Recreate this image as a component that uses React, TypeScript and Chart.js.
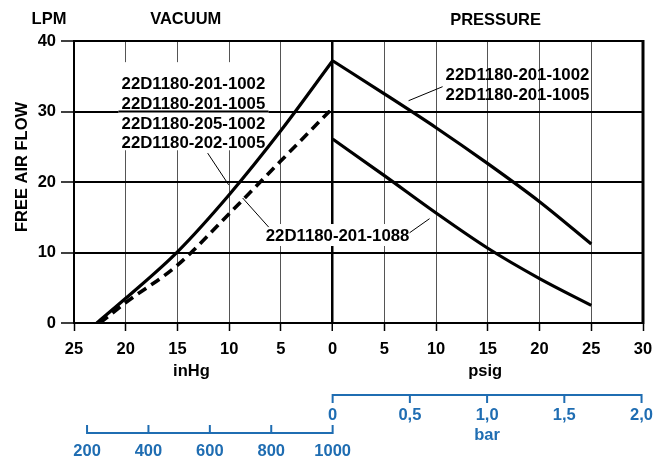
import React, { useEffect, useRef } from "react";
import { Chart, registerables } from "chart.js";

Chart.register(...registerables);

// ---------- data ----------
const vacuumSolidX = [-22.8, -20, -15, -10, -5, 0];
const vacuumSolidY = [0, 3.5, 10.1, 18.2, 27.3, 37.2];
const vacuumDashX = [-22.5, -20, -15, -10, -5, 0];
const vacuumDashY = [0, 2.9, 8.2, 15.5, 23.0, 30.5];
const pressureUpperX = [0, 5, 10, 15, 20, 25];
const pressureUpperY = [37.2, 32.5, 27.7, 22.6, 17.2, 11.2];
const pressureLowerX = [0, 5, 10, 15, 20, 25];
const pressureLowerY = [26.1, 20.9, 15.6, 10.6, 6.3, 2.5];

const barTicks = [0, 0.5, 1.0, 1.5, 2.0];
const barTickLabels = ["0", "0,5", "1,0", "1,5", "2,0"];
const mbarTicks = [200, 400, 600, 800, 1000];
const mbarTickLabels = ["200", "400", "600", "800", "1000"];

const leftLabels = ["22D1180-201-1002", "22D1180-201-1005", "22D1180-205-1002", "22D1180-202-1005"];
const rightLabels = ["22D1180-201-1002", "22D1180-201-1005"];
const lowerLabel = "22D1180-201-1088";

const FONT = '"Liberation Sans", Arial, Helvetica, sans-serif';
const BLUE = "#1f6db2";
const BAR_TO_AXIS = 14.93; // axis units (psig) per bar as printed
const MBAR_PER_INHG = 33.7;

const toPts = (xs: number[], ys: number[]) => xs.map((x, i) => ({ x, y: ys[i] }));

const overlay = {
  id: "overlay",
  beforeDatasetsDraw(chart: any) {
    const { ctx } = chart;
    const x = chart.scales.x;
    const y = chart.scales.y;
    const px = (v: number) => x.getPixelForValue(v);
    const py = (v: number) => y.getPixelForValue(v);
    ctx.save();
    ctx.fillStyle = "#fff";
    // white boxes behind left label block and lower label
    const lx0 = px(-20.7), lx1 = px(-6.2), ly0 = py(37.0), ly1 = py(24.5);
    ctx.fillRect(lx0, ly0, lx1 - lx0, ly1 - ly0);
    const bx0 = px(-6.57), bx1 = px(7.63), by0 = py(14.04), by1 = py(10.92);
    ctx.fillRect(bx0, by0, bx1 - bx0, by1 - by0);
    // restore the 30 gridline through the left box
    ctx.strokeStyle = "#000";
    ctx.lineWidth = 2;
    ctx.beginPath();
    ctx.moveTo(lx0, py(30));
    ctx.lineTo(lx1, py(30));
    ctx.stroke();

    // labels
    ctx.fillStyle = "#000";
    ctx.font = `bold 16.8px ${FONT}`;
    ctx.textBaseline = "middle";
    ctx.textAlign = "left";
    const leftY = [33.8, 31.0, 28.2, 25.5];
    leftLabels.forEach((s, i) => ctx.fillText(s, px(-20.4), py(leftY[i])));
    const rightY = [35.18, 32.34];
    rightLabels.forEach((s, i) => ctx.fillText(s, px(10.92), py(rightY[i])));
    ctx.textAlign = "center";
    ctx.fillText(lowerLabel, px(0.48), py(12.24));

    // leader lines
    ctx.lineWidth = 1;
    const seg = (a: number[], b: number[]) => {
      ctx.beginPath();
      ctx.moveTo(px(a[0]), py(a[1]));
      ctx.lineTo(px(b[0]), py(b[1]));
      ctx.stroke();
    };
    seg([-12.08, 24.1], [-10.05, 19.6]);
    seg([-8.7, 17.73], [-6.18, 13.6]);
    seg([7.44, 12.8], [9.37, 14.8]);
    seg([7.34, 31.53], [10.63, 33.52]);
    ctx.restore();
  },
  afterDraw(chart: any) {
    const { ctx, chartArea } = chart;
    const x = chart.scales.x;
    const px = (v: number) => x.getPixelForValue(v);
    ctx.save();
    // frame
    ctx.strokeStyle = "#000";
    ctx.lineWidth = 2;
    ctx.strokeRect(chartArea.left, chartArea.top, chartArea.right - chartArea.left, chartArea.bottom - chartArea.top);
    ctx.lineWidth = 3;
    ctx.beginPath();
    ctx.moveTo(chartArea.right, chartArea.top - 1);
    ctx.lineTo(chartArea.right, chartArea.bottom + 1);
    ctx.stroke();

    // titles
    ctx.fillStyle = "#000";
    ctx.font = `bold 16.5px ${FONT}`;
    ctx.textAlign = "center";
    ctx.textBaseline = "middle";
    ctx.fillText("LPM", chartArea.left - 25, chartArea.top - 22);
    ctx.fillText("VACUUM", px(-14.2), chartArea.top - 22);
    ctx.fillText("PRESSURE", px(15.75), chartArea.top - 21);
    ctx.fillText("inHg", px(-13.65), chartArea.bottom + 48);
    ctx.fillText("psig", px(14.75), chartArea.bottom + 48);
    ctx.save();
    ctx.translate(chartArea.left - 52, (chartArea.top + chartArea.bottom) / 2 - 15);
    ctx.rotate(-Math.PI / 2);
    ctx.fillText("FREE AIR FLOW", 0, 0);
    ctx.restore();

    // bar axis
    ctx.strokeStyle = BLUE;
    ctx.fillStyle = BLUE;
    ctx.lineWidth = 2;
    const yb = chartArea.bottom + 72;
    const bx = (b: number) => px(b * BAR_TO_AXIS);
    ctx.beginPath();
    ctx.moveTo(bx(barTicks[0]), yb);
    ctx.lineTo(bx(barTicks[barTicks.length - 1]), yb);
    ctx.stroke();
    barTicks.forEach((b, i) => {
      ctx.beginPath();
      ctx.moveTo(bx(b), yb - 1);
      ctx.lineTo(bx(b), yb + 8);
      ctx.stroke();
      ctx.fillText(barTickLabels[i], bx(b), yb + 20);
    });
    ctx.fillText("bar", bx(1.0), yb + 40);

    // mbar axis
    const ym = chartArea.bottom + 110;
    const mx = (m: number) => px(-(1000 - m) / MBAR_PER_INHG);
    ctx.beginPath();
    ctx.moveTo(mx(mbarTicks[0]), ym);
    ctx.lineTo(mx(mbarTicks[mbarTicks.length - 1]), ym);
    ctx.stroke();
    mbarTicks.forEach((m, i) => {
      ctx.beginPath();
      ctx.moveTo(mx(m), ym + 1);
      ctx.lineTo(mx(m), ym - 8);
      ctx.stroke();
      ctx.fillText(mbarTickLabels[i], mx(m), ym + 18.5);
    });
    ctx.restore();
  },
};

export default function App() {
  const ref = useRef<HTMLCanvasElement | null>(null);
  useEffect(() => {
    document.body.style.margin = "0";
    if (!ref.current) return;
    const lineBase = {
      borderColor: "#000",
      borderWidth: 3.2,
      pointRadius: 0,
      fill: false,
      cubicInterpolationMode: "monotone" as const,
      borderCapStyle: "butt" as const,
    };
    const chart = new Chart(ref.current, {
      type: "line",
      data: {
        datasets: [
          { ...lineBase, label: "vac-solid", data: toPts(vacuumSolidX, vacuumSolidY) },
          { ...lineBase, label: "vac-dash", data: toPts(vacuumDashX, vacuumDashY), borderDash: [10, 6], borderWidth: 3.6 },
          { ...lineBase, label: "press-upper", data: toPts(pressureUpperX, pressureUpperY) },
          { ...lineBase, label: "press-lower", data: toPts(pressureLowerX, pressureLowerY) },
        ],
      },
      options: {
        responsive: false,
        animation: false,
        devicePixelRatio: 1,
        layout: { padding: { left: 0, top: 41, right: 22, bottom: 0 } },
        plugins: { legend: { display: false }, tooltip: { enabled: false } },
        scales: {
          x: {
            type: "linear",
            min: -25,
            max: 30,
            afterFit: (s: any) => {
              s.height = 135;
            },
            ticks: {
              stepSize: 5,
              color: "#000",
              font: { family: FONT, size: 16.5, weight: "bold" },
              padding: 9,
              maxRotation: 0,
              callback: (v: any) => String(Math.abs(Number(v))),
            },
            grid: {
              color: (c: any) => (c.tick && c.tick.value === 0 ? "#000" : "#555"),
              lineWidth: (c: any) => (c.tick && c.tick.value === 0 ? 2.5 : 1),
              tickColor: "#000",
              tickWidth: 1.5,
              tickLength: 8,
            },
            border: { display: true, color: "#000", width: 2 },
          },
          y: {
            type: "linear",
            min: 0,
            max: 40,
            afterFit: (s: any) => {
              s.width = 74;
            },
            ticks: {
              stepSize: 10,
              color: "#000",
              font: { family: FONT, size: 16.5, weight: "bold" },
              padding: 5,
            },
            grid: {
              color: "#000",
              lineWidth: 2,
              tickColor: "#000",
              tickWidth: 1.5,
              tickLength: 13,
            },
            border: { display: true, color: "#000", width: 2 },
          },
        },
      },
      plugins: [overlay],
    });
    return () => chart.destroy();
  }, []);
  return (
    <div style={{ position: "absolute", left: 0, top: 0, width: 665, height: 458, background: "#fff" }}>
      <canvas ref={ref} width={665} height={458} style={{ width: 665, height: 458, display: "block" }} />
    </div>
  );
}
